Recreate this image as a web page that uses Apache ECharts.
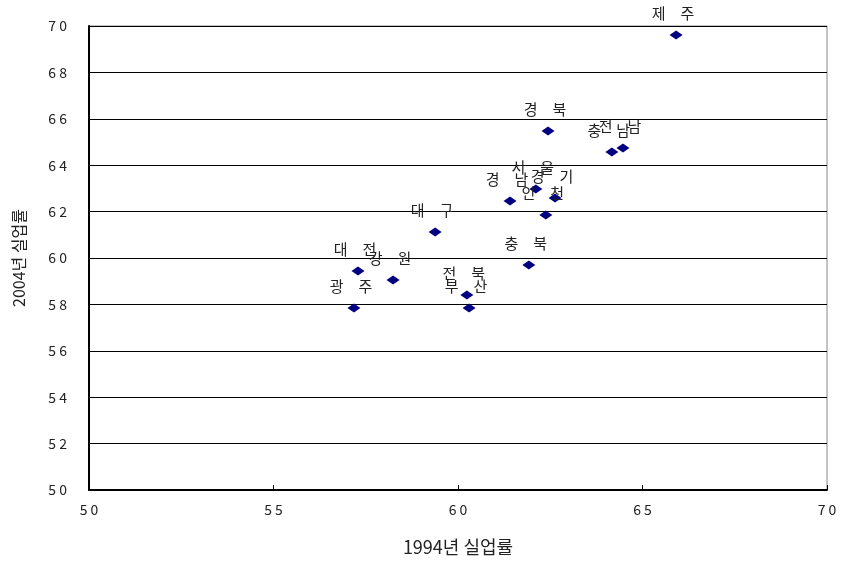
<!DOCTYPE html>
<html>
<head>
<meta charset="utf-8">
<script src="https://cdn.jsdelivr.net/npm/echarts@6/dist/echarts.min.js"></script>
<style>html,body{margin:0;padding:0;background:#fff;}#c{width:841px;height:562px;}</style>
</head>
<body>
<div id="c"></div>
<script>
var regions = ['제주','경북','충남','전남','서울','경기','경남','인천','대구','충북','대전','강원','전북','광주','부산'];
var rate1994 = [65.91,62.44,64.17,64.47,62.11,62.63,61.41,62.38,59.38,61.92,57.29,58.24,60.24,57.18,60.30];
var rate2004 = [69.61,65.47,64.57,64.74,62.97,62.59,62.46,61.85,61.12,59.70,59.44,59.05,58.41,57.84,57.84];
var xTicks = [50,55,60,65,70];
var yTicks = [50,52,54,56,58,60,62,64,66,68,70];

var font = '"Noto Sans CJK KR", "Noto Sans", sans-serif';
var data = regions.map(function(n,i){ return {name:n, value:[rate1994[i], rate2004[i]]}; });
function spaced(v){ return String(v).split('').join(' '); }

var chart = echarts.init(document.getElementById('c'));
chart.setOption({
  animation:false,
  backgroundColor:'#fff',
  grid:{left:89,right:14,top:26,bottom:72,show:true,borderColor:'#888',borderWidth:1},
  xAxis:{type:'value',min:50,max:70,interval:5,
    name:'1994년 실업률',nameLocation:'middle',nameGap:48,
    nameTextStyle:{fontFamily:font,fontSize:18,color:'#222'},
    axisLine:{show:true,lineStyle:{color:'#000',width:2}},
    axisTick:{show:true,inside:true,length:5,lineStyle:{color:'#000'}},
    axisLabel:{margin:13,fontFamily:font,fontSize:14,color:'#222',formatter:function(v){return spaced(v);}},
    splitLine:{show:false}},
  yAxis:{type:'value',min:50,max:70,interval:2,
    name:'2004년 실업률',nameLocation:'middle',nameGap:62,nameRotate:90,
    nameTextStyle:{fontFamily:font,fontSize:16,color:'#222'},
    axisLine:{show:true,lineStyle:{color:'#000',width:2}},
    axisTick:{show:false},
    axisLabel:{margin:22,fontFamily:font,fontSize:14,color:'#222',formatter:function(v){return spaced(v);}},
    splitLine:{show:true,lineStyle:{color:'#000',width:1}}},
  series:[{
    type:'scatter',
    symbol:'diamond',
    symbolSize:[13,9],
    itemStyle:{color:'#000080',opacity:1},
    data:data,
    label:{show:true,position:'top',distance:10,offset:[-3,0],
      fontFamily:font,fontSize:15,color:'#222',
      formatter:function(p){return p.name.split('').join('\u3000');}}
  }]
});
</script>
</body>
</html>
